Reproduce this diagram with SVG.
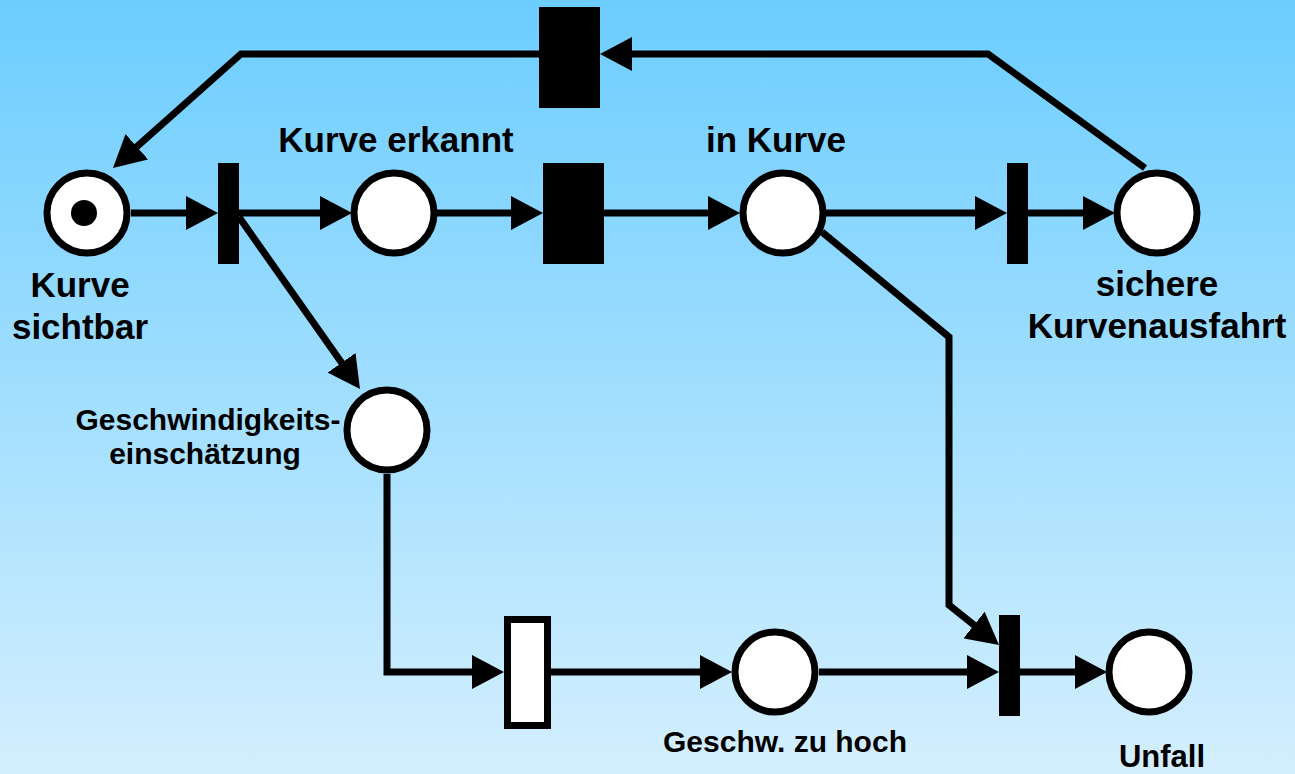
<svg xmlns="http://www.w3.org/2000/svg" width="1295" height="774" viewBox="0 0 1295 774">
<defs>
<linearGradient id="bg" x1="0" y1="0" x2="0" y2="1">
<stop offset="0" stop-color="#6ccdff"/>
<stop offset="1" stop-color="#d4effe"/>
</linearGradient>
<marker id="arr" markerUnits="userSpaceOnUse" markerWidth="32" markerHeight="34" viewBox="0 0 32 34" refX="12" refY="17" orient="auto">
<path d="M0,0 L32,17 L0,34 Z" fill="#000"/>
</marker>
<style>
.arc{fill:none;stroke:#000;stroke-width:7;stroke-linejoin:miter}
.arrow{marker-end:url(#arr)}
.place{fill:#fff;stroke:#000;stroke-width:7}
.trans{fill:#000}
.transw{fill:#fff;stroke:#000;stroke-width:7}
.lbl{font-family:"Liberation Sans",Arial,sans-serif;font-weight:bold;fill:#000;text-anchor:middle}
.big{font-size:35px}
.small{font-size:30px}
</style>
</defs>
<rect x="0" y="0" width="1295" height="774" fill="url(#bg)"/>
<g id="connectors">
<path class="arc arrow" d="M131,213 L198,213"/>
<path class="arc arrow" d="M239,213 L332,213"/>
<path class="arc arrow" d="M437,213 L523,213"/>
<path class="arc arrow" d="M604,213 L720,213"/>
<path class="arc arrow" d="M826,213 L987,213"/>
<path class="arc arrow" d="M1028,213 L1095,213"/>
<path class="arc arrow" d="M1145,168 L988,54 L620,54"/>
<path class="arc arrow" d="M539,54 L241,54 L127.9,154.7"/>
<path class="arc arrow" d="M239,217 L348.5,372.6"/>
<path class="arc arrow" d="M387,474 L387,672 L484,672"/>
<path class="arc arrow" d="M551,672 L712,672"/>
<path class="arc arrow" d="M819,672 L979,672"/>
<path class="arc arrow" d="M1020,672 L1087,672"/>
<path class="arc arrow" d="M822,232 L949,337 L949,605 L983.4,632.5"/>
</g>
<g id="p-kurve-sichtbar">
<circle class="place" cx="87" cy="213" r="40"/>
<circle cx="84" cy="213" r="13" fill="#000"/>
<text class="lbl big" x="80" y="297">Kurve</text>
<text class="lbl big" x="80" y="339">sichtbar</text>
</g>
<g id="p-kurve-erkannt">
<circle class="place" cx="394" cy="213" r="40"/>
<text class="lbl big" x="396" y="152">Kurve erkannt</text>
</g>
<g id="p-in-kurve">
<circle class="place" cx="783" cy="213" r="40"/>
<text class="lbl big" x="776" y="152">in Kurve</text>
</g>
<g id="p-sichere-ausfahrt">
<circle class="place" cx="1157" cy="213" r="40"/>
<text class="lbl big" x="1157" y="296">sichere</text>
<text class="lbl big" x="1157" y="338">Kurvenausfahrt</text>
</g>
<g id="p-geschwindigkeit">
<circle class="place" cx="387" cy="430" r="40"/>
<text class="lbl small" x="208" y="430">Geschwindigkeits-</text>
<text class="lbl small" x="205" y="464">einschätzung</text>
</g>
<g id="p-zu-hoch">
<circle class="place" cx="775" cy="672" r="40"/>
<text class="lbl small" x="785" y="752">Geschw. zu hoch</text>
</g>
<g id="p-unfall">
<circle class="place" cx="1149" cy="672" r="40"/>
<text class="lbl" x="1162" y="767" font-size="31">Unfall</text>
</g>
<g id="t1"><rect class="trans" x="218" y="163" width="21" height="101"/></g>
<g id="t2"><rect class="trans" x="539" y="7" width="61" height="101"/></g>
<g id="t3"><rect class="trans" x="543" y="163" width="61" height="101"/></g>
<g id="t4"><rect class="trans" x="1007" y="163" width="21" height="101"/></g>
<g id="t5"><rect class="transw" x="507.5" y="619.5" width="40" height="106"/></g>
<g id="t6"><rect class="trans" x="999" y="615" width="21" height="101"/></g>
</svg>
